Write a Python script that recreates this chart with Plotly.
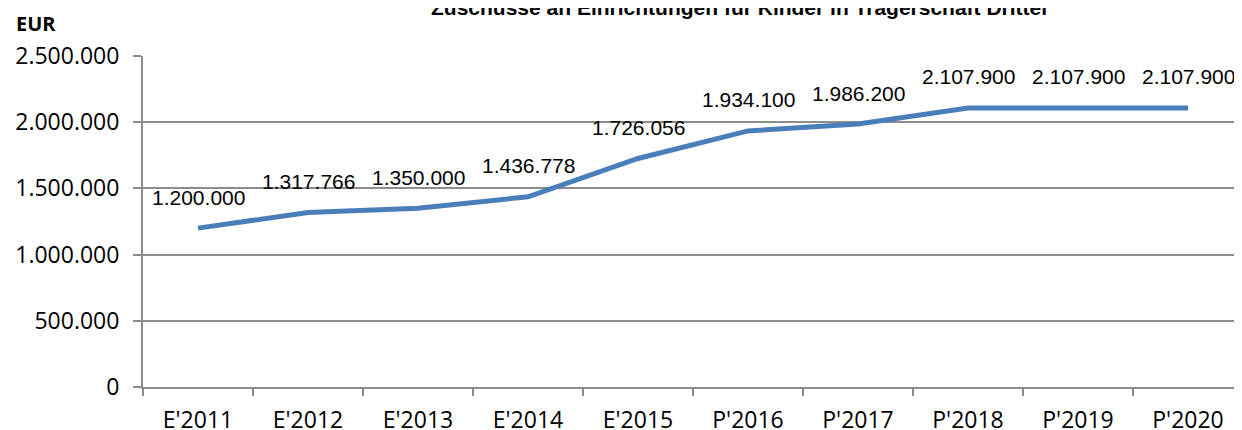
import plotly.graph_objects as go

categories = ["E'2011", "E'2012", "E'2013", "E'2014", "E'2015", "P'2016", "P'2017", "P'2018", "P'2019", "P'2020"]
values = [1200000, 1317766, 1350000, 1436778, 1726056, 1934100, 1986200, 2107900, 2107900, 2107900]
y_ticks = [0, 500000, 1000000, 1500000, 2000000, 2500000]
y_tick_labels = ["0", "500.000", "1.000.000", "1.500.000", "2.000.000", "2.500.000"]
title = "Zuschüsse an Einrichtungen für Kinder in Trägerschaft Dritter"

def fmt(v):
    return f"{v:,}".replace(",", ".")

fig = go.Figure()
fig.add_trace(go.Scatter(
    x=categories, y=values, mode="lines",
    line=dict(color="#4a7ebb", width=5),
    cliponaxis=False, showlegend=False,
))

annotations = [
    dict(x=c, y=v, xref="x", yref="y", text=fmt(v), showarrow=False, yshift=31,
         xanchor="center", yanchor="middle",
         font=dict(family="Liberation Sans, Arial", size=21, color="#000000"))
    for c, v in zip(categories, values)
]
annotations.append(dict(text="<b>EUR</b>", xref="paper", yref="paper", x=-0.1173, y=1.098,
                        xanchor="left", yanchor="middle", showarrow=False,
                        font=dict(family="Open Sans, sans-serif", size=20, color="#000000")))
annotations.append(dict(text="<b>" + title + "</b>", xref="paper", yref="paper", x=0.543, y=1.148,
                        xanchor="center", yanchor="middle", showarrow=False,
                        font=dict(family="Liberation Sans, Arial", size=21, color="#000000")))

tickfont = dict(family="Open Sans, sans-serif", size=23, color="#000000")

fig.update_layout(
    width=1242, height=430,
    margin=dict(l=135, r=7, t=48, b=51, autoexpand=False),
    paper_bgcolor="white", plot_bgcolor="white",
    xaxis=dict(type="category", range=[-0.5, 9.5], showgrid=False, showline=True, linecolor="#8c8c8c",
               linewidth=2, ticks="outside", tickson="boundaries", ticklen=7, tickcolor="#8c8c8c",
               tickwidth=2, ticklabelstandoff=11, tickfont=tickfont, automargin=False),
    yaxis=dict(range=[0, 2500000], tickvals=y_ticks, ticktext=y_tick_labels, showgrid=True,
               gridcolor="#8c8c8c", gridwidth=2, showline=True, linecolor="#8c8c8c", linewidth=2,
               ticks="outside", ticklen=8, tickcolor="#8c8c8c", tickwidth=2, zeroline=False,
               ticklabelstandoff=9, tickfont=tickfont, automargin=False),
    annotations=annotations,
)

fig.write_html("out.html")
